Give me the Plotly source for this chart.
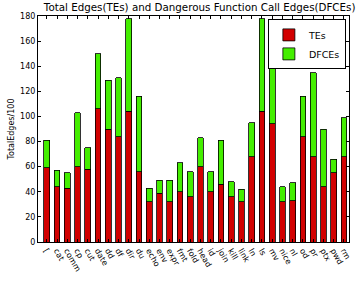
import plotly.graph_objects as go

categories = ["[", "cat", "comm", "cp", "cut", "date", "dd", "df", "dir", "du",
              "echo", "env", "expr", "fmt", "fold", "head", "id", "join", "kill", "link",
              "ln", "ls", "mv", "nice", "nl", "od", "pr", "ptx", "pwd", "rm"]
tes = [59, 44, 43, 60, 58, 106, 90, 84, 104, 56,
       32, 39, 32, 40, 36, 60, 40, 46, 36, 32,
       68, 104, 94, 32, 33, 84, 68, 44, 55, 68]
totals = [81, 57, 55, 103, 75, 150, 129, 131, 178, 116,
          43, 49, 49, 63, 56, 83, 56, 81, 48, 42,
          95, 178, 148, 44, 47, 116, 135, 90, 66, 99]
dfces = [t - e for t, e in zip(totals, tes)]
yticks = [0, 20, 40, 60, 80, 100, 120, 140, 160, 180]

xs = list(range(len(categories)))
font = "DejaVu Sans"

fig = go.Figure()
fig.add_trace(go.Bar(x=xs, y=tes, name="TEs", width=0.56,
                     marker=dict(color="#d20000", line=dict(color="black", width=0.8))))
fig.add_trace(go.Bar(x=xs, y=dfces, name="DFCEs", width=0.56,
                     marker=dict(color="#44ee00", line=dict(color="black", width=0.8))))

fig.update_layout(
    barmode="stack",
    width=363, height=284,
    margin=dict(l=36, r=11, t=16, b=26),
    paper_bgcolor="white", plot_bgcolor="white",
    font=dict(family=font, size=8, color="black"),
    title=dict(text="Total Edges(TEs) and Dangerous Function Call Edges(DFCEs)",
               x=0.55, xanchor="center", y=0.985, yanchor="top",
               font=dict(family=font, size=10.3, color="black")),
    legend=dict(x=0.99, y=0.985, xanchor="right", yanchor="top",
                bgcolor="white", bordercolor="black", borderwidth=1,
                font=dict(family=font, size=9.5), traceorder="normal",
                itemwidth=30, tracegroupgap=0),
    showlegend=True,
)
fig.update_xaxes(
    range=[-0.86, 29.5], tickmode="array", tickvals=xs, ticktext=categories,
    tickangle=60, ticks="inside", ticklen=3, tickcolor="black",
    showline=True, linecolor="black", linewidth=1, mirror="ticks",
    showgrid=False, zeroline=False, tickfont=dict(size=8),
)
fig.update_yaxes(
    range=[0, 180], tickmode="array", tickvals=yticks,
    ticks="inside", ticklen=3, tickcolor="black",
    showline=True, linecolor="black", linewidth=1, mirror="ticks",
    showgrid=False, zeroline=False, tickfont=dict(size=8),
    title=dict(text="TotalEdges/100", font=dict(size=8), standoff=4),
)

fig.write_html("out.html")
